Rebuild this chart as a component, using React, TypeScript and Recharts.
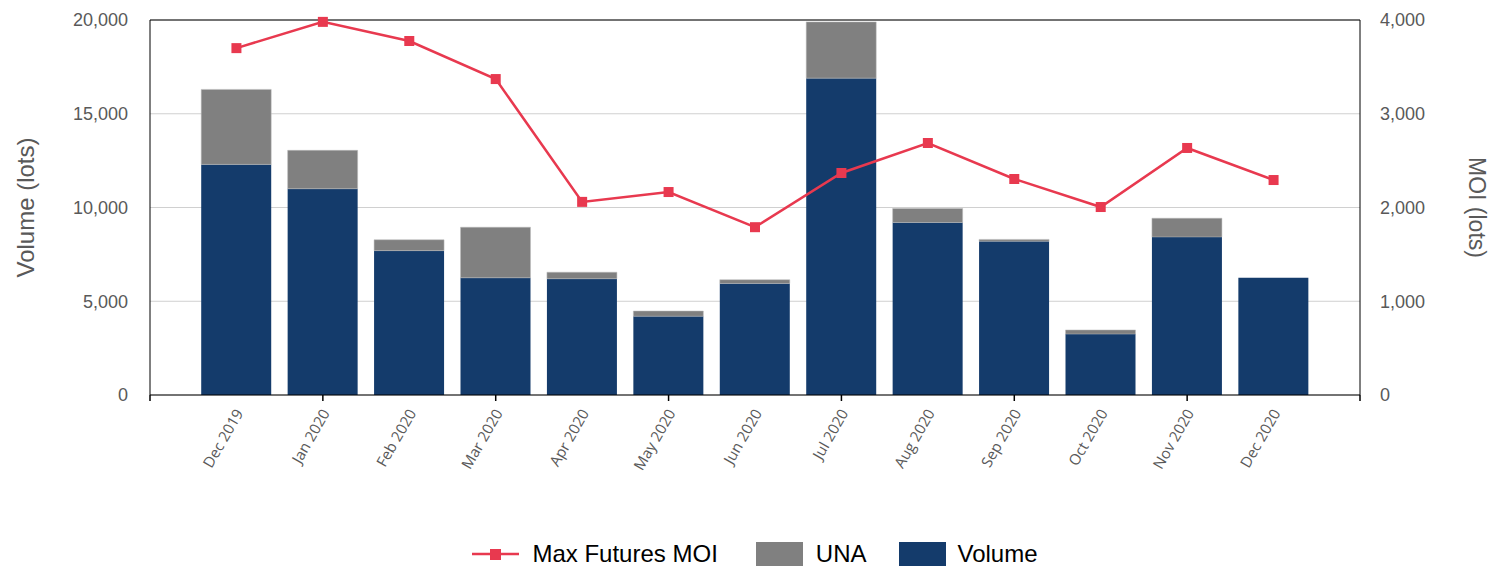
import React from 'react';
import { ComposedChart, Bar, Line, XAxis, YAxis, CartesianGrid, Legend, ReferenceLine } from 'recharts';

// monthly categories
const months = [
    'Dec 2019', 'Jan 2020', 'Feb 2020', 'Mar 2020', 'Apr 2020', 'May 2020', 'Jun 2020',
    'Jul 2020', 'Aug 2020', 'Sep 2020', 'Oct 2020', 'Nov 2020', 'Dec 2020',
];
const volume = [12300, 11000, 7700, 6250, 6200, 4200, 5950, 16900, 9200, 8200, 3250, 8430, 6250];
const una = [4000, 2050, 580, 2700, 350, 280, 200, 3000, 750, 100, 220, 1000, 0];
const maxMoi = [3700, 3980, 3776, 3370, 2060, 2165, 1790, 2368, 2688, 2304, 2005, 2635, 2293];

const volumeTicks = [0, 5000, 10000, 15000, 20000];
const moiTicks = [0, 1000, 2000, 3000, 4000];

const NAVY = '#143B6B';
const GREY = '#808080';
const RED = '#E8394F';
const AXIS_TEXT = '#595959';
const FONT = "'Liberation Sans', Arial, sans-serif";

// x axis is numeric: one slot of padding either side of the months
const xTicks = [-1, ...months.map((_, i) => i), months.length];

const chartData = months.map((m, i) => ({
    idx: i,
    month: m,
    volume: volume[i],
    una: una[i],
    moi: maxMoi[i],
}));

const fmt = (v: number) => v.toLocaleString('en-US');

const MonthTick = (props: any) => {
    const { x, y, payload } = props;
    const v = payload.value as number;
    const showMark = Math.abs(v % 2) === 1 || v === -1 || v === months.length;
    const label = months[v];
    return (
        <g>
            {showMark && <line x1={x} y1={y} x2={x} y2={y + 6} stroke="#000" strokeWidth={1.5} />}
            {label && (
                <g transform={`translate(${x + 4},${y + 16})`}>
                    <text
                        transform="rotate(-60)"
                        textAnchor="end"
                        fontFamily="'Open Sans', sans-serif"
                        fontSize={15}
                        fill={AXIS_TEXT}
                        dy={4}
                    >
                        {label}
                    </text>
                </g>
            )}
        </g>
    );
};

const SquareDot = (props: any) => {
    const { cx, cy, index } = props;
    if (cx == null || cy == null) return null;
    return <rect key={`dot-${index}`} x={cx - 5} y={cy - 5} width={10} height={10} fill={RED} />;
};

const LegendContent = () => (
    <div
        style={{
            height: 40,
            display: 'flex',
            justifyContent: 'center',
            alignItems: 'center',
            fontFamily: FONT,
            fontSize: 24,
            color: '#000',
            paddingLeft: 20,
        }}
    >
        <svg width={47} height={24} style={{ marginRight: 13 }}>
            <line x1={0} y1={12} x2={47} y2={12} stroke={RED} strokeWidth={2.5} />
            <rect x={18} y={7} width={11} height={11} fill={RED} />
        </svg>
        <span style={{ marginRight: 38 }}>Max Futures MOI</span>
        <span style={{ width: 47, height: 24, background: GREY, marginRight: 13, display: 'inline-block' }} />
        <span style={{ marginRight: 33 }}>UNA</span>
        <span style={{ width: 47, height: 24, background: NAVY, marginRight: 11, display: 'inline-block' }} />
        <span>Volume</span>
    </div>
);

const App: React.FC = () => {
    return (
        <div style={{ position: 'absolute', left: 0, top: 0, width: 1490, height: 568, background: '#fff' }}>
            <ComposedChart
                width={1490}
                height={568}
                data={chartData}
                margin={{ top: 20, right: 0, bottom: 0, left: 0 }}
                barSize={70}
            >
                <CartesianGrid vertical={false} stroke="#d0d0d0" yAxisId="left" />
                <XAxis
                    dataKey="idx"
                    type="number"
                    domain={[-1, months.length]}
                    ticks={xTicks}
                    interval={0}
                    height={133}
                    stroke="#000"
                    tickLine={false}
                    tickSize={0}
                    tickMargin={0}
                    tick={<MonthTick />}
                />
                <YAxis
                    yAxisId="left"
                    width={150}
                    domain={[0, 20000]}
                    ticks={volumeTicks}
                    tickFormatter={fmt}
                    tickLine={false}
                    stroke="#000"
                    tickMargin={16}
                    tick={{ fill: AXIS_TEXT, fontSize: 18, fontFamily: FONT }}
                    label={{
                        value: 'Volume (lots)',
                        angle: -90,
                        position: 'insideLeft',
                        offset: 25,
                        style: { textAnchor: 'middle', fill: AXIS_TEXT, fontSize: 24, fontFamily: FONT },
                    }}
                />
                <YAxis
                    yAxisId="right"
                    orientation="right"
                    width={130}
                    domain={[0, 4000]}
                    ticks={moiTicks}
                    tickFormatter={fmt}
                    tickLine={false}
                    stroke="#000"
                    tickMargin={14}
                    tick={{ fill: AXIS_TEXT, fontSize: 18, fontFamily: FONT, textAnchor: 'start' }}
                    label={{
                        value: 'MOI (lots)',
                        angle: 90,
                        position: 'insideRight',
                        offset: 13,
                        style: { textAnchor: 'middle', fill: AXIS_TEXT, fontSize: 23, fontFamily: FONT },
                    }}
                />
                <ReferenceLine yAxisId="left" y={20000} stroke="#000" strokeWidth={1} />
                <Legend verticalAlign="bottom" align="center" content={<LegendContent />} wrapperStyle={{ bottom: -6 }} />
                <Bar yAxisId="left" dataKey="volume" stackId="a" fill={NAVY} name="Volume" isAnimationActive={false} />
                <Bar yAxisId="left" dataKey="una" stackId="a" fill={GREY} stroke="#bdbdbd" strokeWidth={0.5} name="UNA" isAnimationActive={false} />
                <Line
                    yAxisId="right"
                    dataKey="moi"
                    stroke={RED}
                    strokeWidth={2.5}
                    dot={<SquareDot />}
                    activeDot={false}
                    name="Max Futures MOI"
                    isAnimationActive={false}
                />
            </ComposedChart>
        </div>
    );
};

export default App;
